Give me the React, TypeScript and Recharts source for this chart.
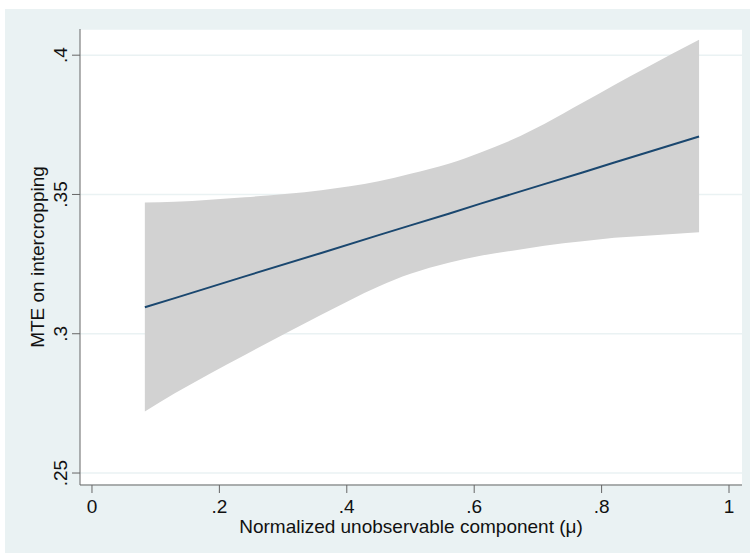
import { Area, CartesianGrid, ComposedChart, Label, Line, XAxis, YAxis } from 'recharts';

// values
const muValues = [0.083, 0.13, 0.24, 0.36, 0.45, 0.5, 0.56, 0.61, 0.66, 0.71, 0.77, 0.82, 0.87, 0.953];
const mteValues = [0.3095, 0.3128, 0.3206, 0.329, 0.3354, 0.3389, 0.3431, 0.3467, 0.3502, 0.3537, 0.3579, 0.3615, 0.365, 0.3708];
const upperValues = [0.3471, 0.3474, 0.349, 0.3515, 0.3547, 0.3574, 0.361, 0.3651, 0.3697, 0.3753, 0.3829, 0.3893, 0.3955, 0.4055];
const lowerValues = [0.2721, 0.2786, 0.2924, 0.3068, 0.317, 0.3215, 0.3255, 0.328, 0.3298, 0.3316, 0.3332, 0.3345, 0.3352, 0.3364];

const xTicks = [0, 0.2, 0.4, 0.6, 0.8, 1];
const yTicks = [0.25, 0.3, 0.35, 0.4];

const data = muValues.map((x, i) => ({
  x,
  mte: mteValues[i],
  band: [lowerValues[i], upperValues[i]],
}));

const FONT = '"Liberation Sans", Arial, sans-serif';
const AXIS_COLOR = '#666';
const BG = '#EAF2F3';

const fmt = (v: number) => (v === 0 ? '0' : v === 1 ? '1' : String(v).replace(/^0\./, '.'));

function YTick({ x, y, payload }: { x?: number; y?: number; payload?: { value: number } }) {
  return (
    <text
      x={x}
      y={y}
      transform={`rotate(-90, ${x}, ${y})`}
      textAnchor="middle"
      fontSize={19}
      fontFamily={FONT}
      fill="#111"
    >
      {fmt(payload?.value ?? 0)}
    </text>
  );
}

function YTitle({ viewBox }: { viewBox?: { x: number; y: number; width: number; height: number } }) {
  const cy = (viewBox?.y ?? 0) + (viewBox?.height ?? 0) / 2;
  return (
    <text x={44} y={cy} transform={`rotate(-90, 44, ${cy})`} textAnchor="middle" fontSize={19} fontFamily={FONT} fill="#111">
      MTE on intercropping
    </text>
  );
}

function XTitle({ viewBox }: { viewBox?: { x: number; y: number; width: number; height: number } }) {
  const cx = (viewBox?.x ?? 0) + (viewBox?.width ?? 0) / 2;
  return (
    <text x={cx} y={533} textAnchor="middle" fontSize={19} fontFamily={FONT} fill="#111">
      Normalized unobservable component (μ)
    </text>
  );
}

export default function App() {
  return (
    <div style={{ position: 'absolute', left: 0, top: 0, width: 750, height: 553, background: '#fff' }}>
      <div style={{ position: 'absolute', left: 5, top: 9, width: 745, height: 544, background: BG }} />
      <div style={{ position: 'absolute', left: 0, top: 0 }}>
        <ComposedChart width={750} height={553} data={data} margin={{ top: 29, right: 8, bottom: 0, left: 0 }}>
          <CartesianGrid vertical={false} fill="#fff" stroke={BG} strokeWidth={1.5} />
          <XAxis
            type="number"
            dataKey="x"
            domain={[-0.0188, 1.0204]}
            ticks={xTicks}
            tickFormatter={fmt}
            allowDataOverflow
            height={68}
            tickSize={8}
            tickMargin={7}
            stroke={AXIS_COLOR}
            tick={{ fill: '#111', fontSize: 19, fontFamily: FONT }}
          >
            <Label content={XTitle} />
          </XAxis>
          <YAxis
            type="number"
            domain={[0.2457, 0.4094]}
            ticks={yTicks}
            allowDataOverflow
            width={80}
            tickSize={8}
            tickMargin={5}
            stroke={AXIS_COLOR}
            tick={<YTick />}
          >
            <Label content={YTitle} />
          </YAxis>
          <Area
            type="monotone"
            dataKey="band"
            stroke="none"
            fill="#D2D2D2"
            fillOpacity={1}
            isAnimationActive={false}
          />
          <Line type="linear" dataKey="mte" stroke="#1A476F" strokeWidth={2} dot={false} isAnimationActive={false} />
        </ComposedChart>
      </div>
    </div>
  );
}
